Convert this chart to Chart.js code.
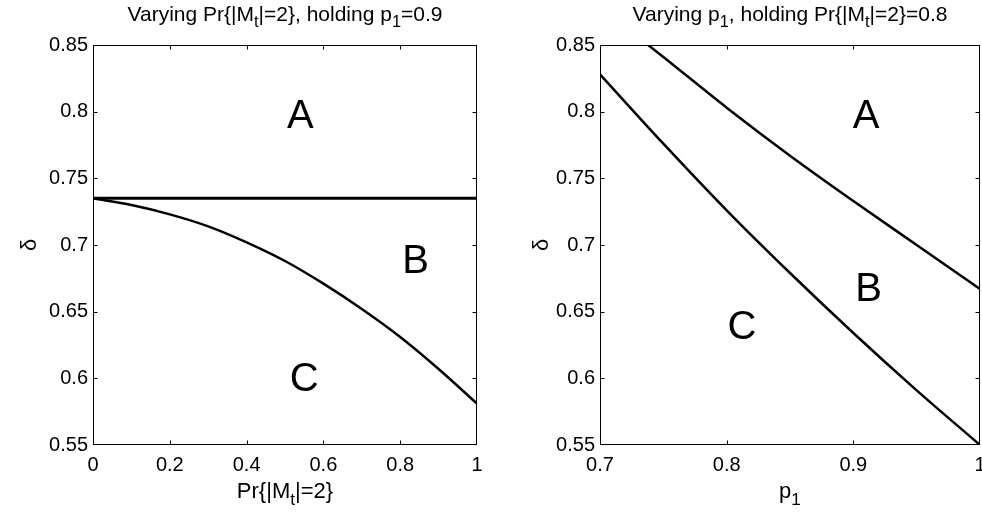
<!DOCTYPE html>
<html>
<head>
<meta charset="utf-8">
<script src="https://cdn.jsdelivr.net/npm/chart.js@4.4.1/dist/chart.umd.min.js"></script>
<style>
  html, body { margin: 0; padding: 0; background: #fff; }
  #wrap { position: relative; width: 982px; height: 515px; }
  canvas { position: absolute; top: 0; }
</style>
</head>
<body>
<div id="wrap">
  <canvas id="left" width="491" height="515" style="left:0"></canvas>
  <canvas id="right" width="491" height="515" style="left:491px"></canvas>
</div>
<script>
// left panel: varying Pr{|Mt|=2}, p1 = 0.9
var leftX     = [0, 0.1, 0.2, 0.3, 0.4, 0.5, 0.6, 0.7, 0.8, 0.9, 1.0];
var leftFlat  = [0.735, 0.735, 0.735, 0.735, 0.735, 0.735, 0.735, 0.735, 0.735, 0.735, 0.735];
var leftCurve = [0.735, 0.730, 0.723, 0.714, 0.702, 0.688, 0.671, 0.652, 0.631, 0.607, 0.581];
var leftXTicks = [0, 0.2, 0.4, 0.6, 0.8, 1];

// right panel: varying p1, Pr{|Mt|=2} = 0.8
var rightUpperX = [0.738, 0.75, 0.8, 0.85, 0.9, 0.95, 1.0];
var rightUpperY = [0.85, 0.841, 0.803, 0.767, 0.733, 0.700, 0.667];
var rightLowerX = [0.7, 0.75, 0.8, 0.85, 0.9, 0.95, 1.0];
var rightLowerY = [0.828, 0.776, 0.726, 0.679, 0.634, 0.591, 0.55];
var rightXTicks = [0.7, 0.8, 0.9, 1];

var yTicks = [0.55, 0.6, 0.65, 0.7, 0.75, 0.8, 0.85];

// region letters [text, x, y]
var leftRegions  = [['A', 0.54, 0.796], ['B', 0.84, 0.687], ['C', 0.55, 0.599]];
var rightRegions = [['A', 0.91, 0.796], ['B', 0.912, 0.666], ['C', 0.812, 0.638]];

var FONT = '"Liberation Sans", Arial, Helvetica, sans-serif';

function pts(xs, ys) {
  var out = [];
  for (var i = 0; i < xs.length; i++) out.push({x: xs[i], y: ys[i]});
  return out;
}

// text with subscripts: parts = [[text, isSub], ...]
function richWidth(ctx, parts, size) {
  var w = 0;
  parts.forEach(function (p) {
    ctx.font = (p[1] ? size * 0.78 : size) + 'px ' + FONT;
    w += ctx.measureText(p[0]).width;
  });
  return w;
}
function drawRich(ctx, parts, cx, baseline, size) {
  var x = cx - richWidth(ctx, parts, size) / 2;
  ctx.textAlign = 'left';
  ctx.textBaseline = 'alphabetic';
  parts.forEach(function (p) {
    ctx.font = (p[1] ? size * 0.78 : size) + 'px ' + FONT;
    ctx.fillText(p[0], x, baseline + (p[1] ? size * 0.3 : 0));
    x += ctx.measureText(p[0]).width;
  });
}

function framePlugin(cfg) {
  return {
    id: 'frame',
    afterDraw: function (chart) {
      var ctx = chart.ctx, a = chart.chartArea;
      var xs = chart.scales.x, ys = chart.scales.y;
      ctx.save();
      ctx.strokeStyle = '#000';
      ctx.fillStyle = '#000';
      ctx.lineWidth = 1;
      var L = Math.round(a.left) + 0.5, R = Math.round(a.right) - 0.5;
      var T = Math.round(a.top) + 0.5, B = Math.round(a.bottom) - 0.5;
      ctx.strokeRect(L, T, R - L, B - T);
      ctx.beginPath();
      cfg.xTicks.forEach(function (v) {
        var px = Math.round(xs.getPixelForValue(v)) + 0.5;
        if (px <= L + 1 || px >= R - 1) return;
        ctx.moveTo(px, B); ctx.lineTo(px, B - 4);
        ctx.moveTo(px, T); ctx.lineTo(px, T + 4);
      });
      yTicks.forEach(function (v) {
        var py = Math.round(ys.getPixelForValue(v)) + 0.5;
        if (py <= T + 1 || py >= B - 1) return;
        ctx.moveTo(L, py); ctx.lineTo(L + 4, py);
        ctx.moveTo(R, py); ctx.lineTo(R - 4, py);
      });
      ctx.stroke();

      // region letters
      ctx.font = '40px ' + FONT;
      ctx.textAlign = 'center';
      ctx.textBaseline = 'middle';
      cfg.regions.forEach(function (r) {
        ctx.fillText(r[0], xs.getPixelForValue(r[1]), ys.getPixelForValue(r[2]));
      });

      var cx = (a.left + a.right) / 2;
      drawRich(ctx, cfg.title, cx, 21, 21);
      drawRich(ctx, cfg.xTitle, cx, 498, 22);

      // rotated delta
      ctx.translate(cfg.deltaX, (a.top + a.bottom) / 2);
      ctx.rotate(-Math.PI / 2);
      drawRich(ctx, [['δ', false]], 0, 8, 22);
      ctx.restore();
    }
  };
}

function makeChart(id, datasets, xMin, xMax, xTicks, yAxisW, padRight, cfg) {
  return new Chart(document.getElementById(id), {
    type: 'line',
    data: { datasets: datasets },
    options: {
      responsive: false,
      devicePixelRatio: 1,
      animation: false,
      events: [],
      layout: { padding: { top: 45, right: padRight, left: 0, bottom: 0 } },
      plugins: { legend: { display: false }, tooltip: { enabled: false } },
      elements: { point: { radius: 0 } },
      scales: {
        x: {
          type: 'linear', min: xMin, max: xMax,
          grid: { display: false, drawTicks: false },
          border: { display: false },
          afterBuildTicks: function (s) { s.ticks = xTicks.map(function (v) { return {value: v}; }); },
          afterFit: function (s) { s.height = 70; s.paddingLeft = 0; s.paddingRight = 0; },
          ticks: {
            color: '#000', padding: 8, maxRotation: 0, autoSkip: false,
            font: { family: FONT, size: 20 },
            callback: function (v) { return String(+v.toFixed(2)); }
          }
        },
        y: {
          type: 'linear', min: 0.55, max: 0.85,
          grid: { display: false, drawTicks: false },
          border: { display: false },
          afterBuildTicks: function (s) { s.ticks = yTicks.map(function (v) { return {value: v}; }); },
          afterFit: function (s) { s.width = yAxisW; s.paddingTop = 0; s.paddingBottom = 0; },
          ticks: {
            color: '#000', padding: 5, autoSkip: false,
            font: { family: FONT, size: 20 },
            callback: function (v) { return String(+v.toFixed(2)); }
          }
        }
      }
    },
    plugins: [framePlugin(cfg)]
  });
}

var lineStyle = { borderColor: '#000', borderWidth: 2.5, fill: false, cubicInterpolationMode: 'monotone' };

makeChart('left', [
  Object.assign({ data: pts(leftX, leftFlat) }, lineStyle, { borderWidth: 3 }),
  Object.assign({ data: pts(leftX, leftCurve) }, lineStyle)
], 0, 1, leftXTicks, 93, 14, {
  xTicks: leftXTicks,
  regions: leftRegions,
  title: [['Varying Pr{|M', false], ['t', true], ['|=2}, holding p', false], ['1', true], ['=0.9', false]],
  xTitle: [['Pr{|M', false], ['t', true], ['|=2}', false]],
  deltaX: 28
});

makeChart('right', [
  Object.assign({ data: pts(rightUpperX, rightUpperY) }, lineStyle),
  Object.assign({ data: pts(rightLowerX, rightLowerY) }, lineStyle)
], 0.7, 1, rightXTicks, 109, 2, {
  xTicks: rightXTicks,
  regions: rightRegions,
  title: [['Varying p', false], ['1', true], [', holding Pr{|M', false], ['t', true], ['|=2}=0.8', false]],
  xTitle: [['p', false], ['1', true]],
  deltaX: 49
});
</script>
</body>
</html>
